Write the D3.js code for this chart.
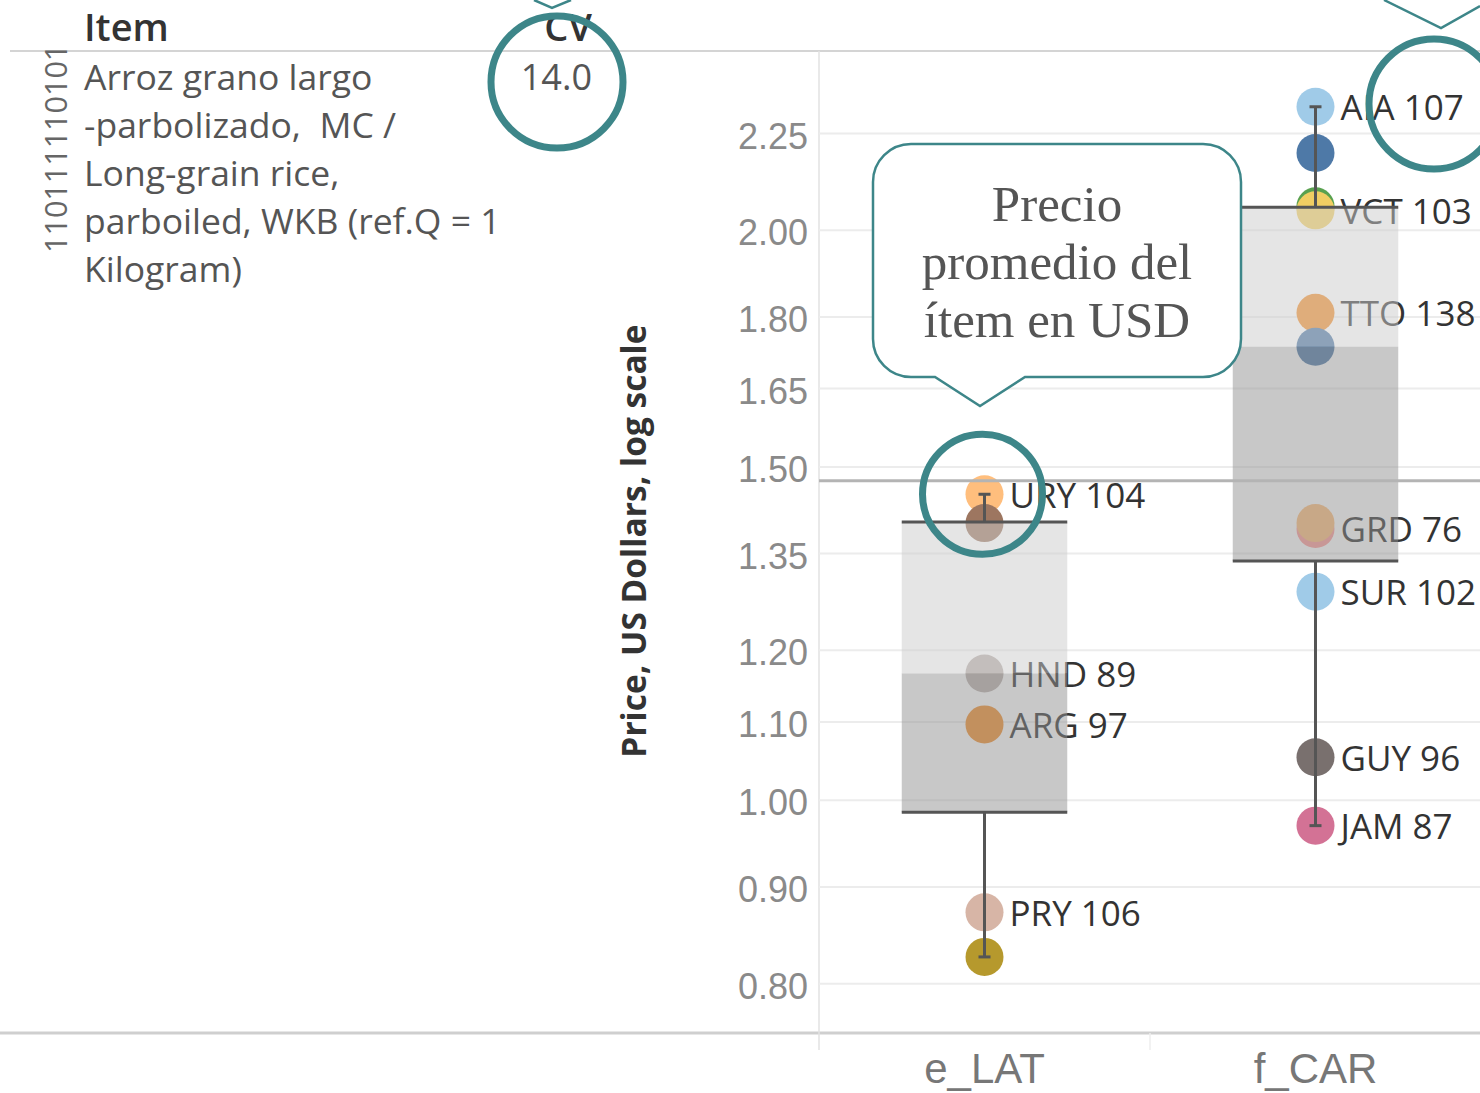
<!DOCTYPE html>
<html>
<head>
<meta charset="utf-8">
<script src="https://cdn.jsdelivr.net/npm/d3@7.9.0/dist/d3.min.js"></script>
<style>
  html, body { margin: 0; padding: 0; background: #fff; }
  svg { display: block; font-family: "Open Sans", "Noto Sans", sans-serif; }
  text { white-space: pre; }
</style>
</head>
<body>
<svg id="chart" width="1480" height="1093"></svg>
<script>
// ---- data ----
const regions = ["e_LAT", "f_CAR"];

// box plot stats per region (USD)
const q1 = [0.985, 1.337];
const medians = [1.166, 1.735];
const q3 = [1.402, 2.056];
const whiskerLow = [0.826, 0.969];
const whiskerHigh = [1.450, 2.323];

// one circle per country, drawn in this order
const pointRegion = ["e_LAT", "e_LAT", "e_LAT", "e_LAT", "e_LAT", "e_LAT",
  "f_CAR", "f_CAR", "f_CAR", "f_CAR", "f_CAR", "f_CAR", "f_CAR", "f_CAR", "f_CAR", "f_CAR", "f_CAR"];
const pointCode = ["URY", "", "HND", "ARG", "PRY", "",
  "AIA", "", "", "VCT", "TTO", "", "GRD", "", "SUR", "GUY", "JAM"];
const pointObs = [104, null, 89, 97, 106, null,
  107, null, null, 103, 138, null, 76, null, 102, 96, 87];
const pointPrice = [1.450, 1.400, 1.166, 1.096, 0.872, 0.826,
  2.323, 2.196, 2.058, 2.048, 1.808, 1.735, 1.390, 1.400, 1.288, 1.053, 0.969];
const pointColor = ["#ffbe7d", "#9d7660", "#bab0ac", "#f28e2b", "#d7b5a6", "#b6992d",
  "#a0cbe8", "#4e79a7", "#59a14f", "#f1ce63", "#f28e2b", "#4e79a7", "#ff9d9a", "#ffbe7d", "#a0cbe8", "#79706e", "#d37295"];

const avgPrice = 1.474; // reference line
const tickValues = [0.8, 0.9, 1.0, 1.1, 1.2, 1.35, 1.5, 1.65, 1.8, 2.0, 2.25];

const itemCode = "110111110101";
const itemLines = ["Arroz grano largo", "-parbolizado,  MC /", "Long-grain rice,",
  "parboiled, WKB (ref.Q = 1", "Kilogram)"];
const cvValue = "14.0";
const calloutLines = ["Precio", "promedio del", "ítem en USD"];

// ---- layout ----
const svg = d3.select("#chart");
const teal = "#3d8689";
const plotLeft = 819, plotRight = 1480, plotTop = 52, plotBottom = 1033;

const y = d3.scaleLog().domain([0.753, 2.483]).range([plotBottom, plotTop]);
const x = d3.scaleBand().domain(regions).range([plotLeft, plotLeft + 662]);
const cx = (r) => x(r) + x.bandwidth() / 2;
const boxW = x.bandwidth() * 0.5;

// frame lines
svg.append("line").attr("x1", 10).attr("x2", 1480).attr("y1", 51).attr("y2", 51)
  .attr("stroke", "#d4d4d4").attr("stroke-width", 2);
svg.append("line").attr("x1", 0).attr("x2", 1480).attr("y1", plotBottom).attr("y2", plotBottom)
  .attr("stroke", "#cfcfcf").attr("stroke-width", 3);
svg.append("line").attr("x1", plotLeft).attr("x2", plotLeft).attr("y1", 51).attr("y2", 1050)
  .attr("stroke", "#e2e2e2").attr("stroke-width", 1.5);
svg.append("line").attr("x1", 1150).attr("x2", 1150).attr("y1", plotBottom).attr("y2", 1050)
  .attr("stroke", "#eeeeee").attr("stroke-width", 1.5);

// y axis with gridlines
const yAxis = svg.append("g")
  .attr("transform", `translate(${plotLeft},0)`)
  .call(d3.axisLeft(y).tickValues(tickValues).tickFormat(d3.format(".2f"))
    .tickSize(-(plotRight - plotLeft)).tickPadding(11));
yAxis.select(".domain").remove();
yAxis.selectAll(".tick line").attr("stroke", "#ececec").attr("stroke-width", 2);
yAxis.selectAll(".tick text").attr("fill", "#8a8a8a").attr("font-size", 36).attr("dy", "0.42em");

svg.append("text")
  .attr("transform", "translate(646,541) rotate(-90)")
  .attr("text-anchor", "middle")
  .attr("font-size", 33.5).attr("font-weight", 700).attr("fill", "#333")
  .text("Price, US Dollars, log scale");

// x axis labels
const xAxis = svg.append("g")
  .attr("transform", `translate(0,${plotBottom})`)
  .call(d3.axisBottom(x).tickSize(0).tickPadding(20));
xAxis.select(".domain").remove();
xAxis.selectAll(".tick text").attr("fill", "#777").attr("font-size", 42);

// points
const points = pointPrice.map((p, i) => ({
  region: pointRegion[i], code: pointCode[i], obs: pointObs[i], price: p, color: pointColor[i]
}));

svg.append("g").selectAll("circle").data(points).join("circle")
  .attr("cx", d => cx(d.region))
  .attr("cy", d => y(d.price))
  .attr("r", 19)
  .attr("fill", d => d.color);

svg.append("g").selectAll("text").data(points.filter(d => d.code)).join("text")
  .attr("x", d => cx(d.region) + 25)
  .attr("y", d => y(d.price))
  .attr("dy", "0.38em")
  .attr("font-size", 35)
  .attr("fill", "#333")
  .text(d => `${d.code} ${d.obs}`);

// box plots drawn over the marks (semi-transparent)
const boxes = regions.map((r, i) => ({
  region: r, q1: q1[i], med: medians[i], q3: q3[i], lo: whiskerLow[i], hi: whiskerHigh[i]
}));
const bg = svg.append("g").selectAll("g").data(boxes).join("g");
bg.append("rect")
  .attr("x", d => cx(d.region) - boxW / 2).attr("width", boxW)
  .attr("y", d => y(d.q3)).attr("height", d => y(d.med) - y(d.q3))
  .attr("fill", "rgb(204,204,204)").attr("fill-opacity", 0.5);
bg.append("rect")
  .attr("x", d => cx(d.region) - boxW / 2).attr("width", boxW)
  .attr("y", d => y(d.med)).attr("height", d => y(d.q1) - y(d.med))
  .attr("fill", "rgb(145,145,145)").attr("fill-opacity", 0.5);
["q1", "q3"].forEach(k => {
  bg.append("line")
    .attr("x1", d => cx(d.region) - boxW / 2).attr("x2", d => cx(d.region) + boxW / 2)
    .attr("y1", d => y(d[k])).attr("y2", d => y(d[k]))
    .attr("stroke", "#555").attr("stroke-width", 3);
});
[["q3", "hi"], ["q1", "lo"]].forEach(([a, b]) => {
  bg.append("line")
    .attr("x1", d => cx(d.region)).attr("x2", d => cx(d.region))
    .attr("y1", d => y(d[a])).attr("y2", d => y(d[b]))
    .attr("stroke", "#555").attr("stroke-width", 3);
  bg.append("line")
    .attr("x1", d => cx(d.region) - 6).attr("x2", d => cx(d.region) + 6)
    .attr("y1", d => y(d[b])).attr("y2", d => y(d[b]))
    .attr("stroke", "#555").attr("stroke-width", 3);
});

// average reference line
svg.append("line")
  .attr("x1", plotLeft).attr("x2", plotRight)
  .attr("y1", y(avgPrice)).attr("y2", y(avgPrice))
  .attr("stroke", "#b4b4b4").attr("stroke-width", 3);

// ---- left table ----
svg.append("text").attr("x", 84).attr("y", 41)
  .attr("font-size", 38).attr("font-weight", 600).attr("fill", "#333").text("Item");
svg.append("text").attr("x", 592).attr("y", 41).attr("text-anchor", "end")
  .attr("font-size", 38).attr("font-weight", 600).attr("fill", "#333").text("CV");
svg.append("text").attr("x", 592).attr("y", 90).attr("text-anchor", "end")
  .attr("font-size", 36).attr("fill", "#555").text(cvValue);
svg.append("g").selectAll("text").data(itemLines).join("text")
  .attr("x", 84).attr("y", (d, i) => 90 + i * 48)
  .attr("font-size", 35.5).attr("fill", "#555")
  .text(d => d);
svg.append("text")
  .attr("transform", "translate(67,253) rotate(-90)")
  .attr("font-size", 30.5).attr("fill", "#666")
  .text(itemCode);

// ---- annotations ----
const callout = d3.path();
const bx0 = 873, bx1 = 1241, by0 = 144, by1 = 377, rr = 38;
callout.moveTo(bx0 + rr, by0);
callout.lineTo(bx1 - rr, by0);
callout.arcTo(bx1, by0, bx1, by0 + rr, rr);
callout.lineTo(bx1, by1 - rr);
callout.arcTo(bx1, by1, bx1 - rr, by1, rr);
callout.lineTo(1025, by1);
callout.lineTo(980, 406);
callout.lineTo(935, by1);
callout.lineTo(bx0 + rr, by1);
callout.arcTo(bx0, by1, bx0, by1 - rr, rr);
callout.lineTo(bx0, by0 + rr);
callout.arcTo(bx0, by0, bx0 + rr, by0, rr);
callout.closePath();
svg.append("path").attr("d", callout.toString())
  .attr("fill", "#fff").attr("stroke", teal).attr("stroke-width", 2.5);
svg.append("g").selectAll("text").data(calloutLines).join("text")
  .attr("x", 1057).attr("y", (d, i) => 221 + i * 58)
  .attr("text-anchor", "middle")
  .attr("font-family", "'Liberation Serif', 'DejaVu Serif', serif")
  .attr("font-size", 51).attr("fill", "#555")
  .text(d => d);

// pointers of callouts above the visible area
svg.append("path").attr("d", "M534,0L552,8L571,0")
  .attr("fill", "none").attr("stroke", teal).attr("stroke-width", 2.5);
svg.append("path").attr("d", "M1384,0L1441,28L1480,6")
  .attr("fill", "none").attr("stroke", teal).attr("stroke-width", 2.5);

// highlight rings
const rings = [
  { x: 557, y: 82, r: 66 },
  { x: 1434, y: 104, r: 65 },
  { x: cx("e_LAT") - 2, y: y(pointPrice[0]), r: 60 }
];
svg.append("g").selectAll("circle").data(rings).join("circle")
  .attr("cx", d => d.x).attr("cy", d => d.y).attr("r", d => d.r)
  .attr("fill", "none").attr("stroke", teal).attr("stroke-width", 7);
</script>
</body>
</html>
